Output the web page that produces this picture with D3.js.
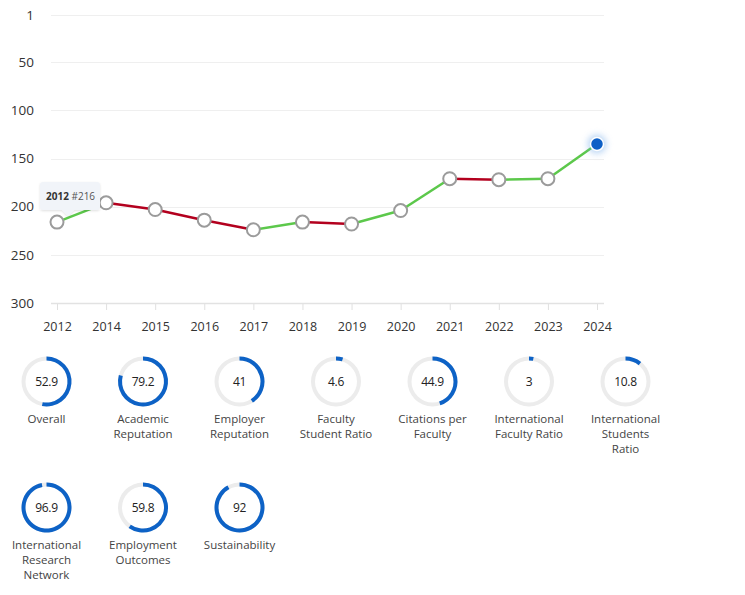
<!DOCTYPE html>
<html><head><meta charset="utf-8">
<script src="https://cdn.jsdelivr.net/npm/d3@7"></script>
<style>
html,body{margin:0;padding:0;background:#fff;}
svg{display:block;font-family:"Open Sans",sans-serif;}
</style></head>
<body>
<svg id="chart" width="745" height="595"></svg>
<script>
const years = ["2012","2014","2015","2016","2017","2018","2019","2020","2021","2022","2023","2024"];
const ranks = [216,196,203,214,224,216,218,204,171,172,171,135];
const yTicks = [1,50,100,150,200,250,300];
const metricNames = [
  ["Overall"],
  ["Academic","Reputation"],
  ["Employer","Reputation"],
  ["Faculty","Student Ratio"],
  ["Citations per","Faculty"],
  ["International","Faculty Ratio"],
  ["International","Students","Ratio"],
  ["International","Research","Network"],
  ["Employment","Outcomes"],
  ["Sustainability"]
];
const metricScores = [52.9,79.2,41,4.6,44.9,3,10.8,96.9,59.8,92];

const svg = d3.select("#chart");
const x = d3.scalePoint().domain(years).range([57,597]);
const y = d3.scaleLinear().domain([0,300]).range([14,303]);

// defs: glow
const defs = svg.append("defs");
const f = defs.append("filter").attr("id","glow").attr("x","-100%").attr("y","-100%").attr("width","300%").attr("height","300%");
f.append("feGaussianBlur").attr("in","SourceGraphic").attr("stdDeviation",3.5).attr("result","b");
const tf = defs.append("filter").attr("id","tshadow").attr("x","-20%").attr("y","-20%").attr("width","140%").attr("height","160%");
tf.append("feDropShadow").attr("dx",0).attr("dy",1).attr("stdDeviation",1.2).attr("flood-color","#000").attr("flood-opacity",0.12);

// grid
const grid = svg.append("g");
grid.selectAll("line").data(yTicks).join("line")
  .attr("x1",51).attr("x2",604)
  .attr("y1",d=>Math.round(y(d))+0.5).attr("y2",d=>Math.round(y(d))+0.5)
  .attr("stroke",d=>d===300?"#e2e2e2":"#efefef").attr("stroke-width",d=>d===300?1.5:1);

// y axis labels
const yAxis = d3.axisLeft(y).tickValues(yTicks).tickSize(0).tickPadding(0);
const yg = svg.append("g").attr("transform","translate(34,0)").call(yAxis);
yg.select(".domain").remove();
yg.selectAll("text").attr("font-size",13.5).attr("fill","#333").attr("font-family","'Open Sans',sans-serif");

// x axis
const xAxis = d3.axisBottom(x).tickSize(6).tickPadding(12);
const xg = svg.append("g").attr("transform","translate(0,304)").call(xAxis);
xg.select(".domain").remove();
xg.selectAll(".tick line").attr("stroke","#e0e0e0");
xg.selectAll("text").attr("font-size",12.5).attr("fill","#333").attr("font-family","'Open Sans',sans-serif");

// line segments
const segs = d3.range(ranks.length-1).map(i=>({i, a:ranks[i], b:ranks[i+1]}));
svg.append("g").selectAll("line").data(segs).join("line")
  .attr("x1",d=>x(years[d.i])).attr("y1",d=>y(d.a))
  .attr("x2",d=>x(years[d.i+1])).attr("y2",d=>y(d.b))
  .attr("stroke",d=>d.b<=d.a?"#5cc84b":"#b3001e")
  .attr("stroke-width",2.5);

// points
const pts = years.map((yr,i)=>({yr, r:ranks[i], last:i===years.length-1}));
svg.append("g").selectAll("circle").data(pts.filter(d=>!d.last)).join("circle")
  .attr("cx",d=>x(d.yr)).attr("cy",d=>y(d.r)).attr("r",6.5)
  .attr("fill","#fff").attr("stroke","#9b9b9b").attr("stroke-width",2);
const lastP = pts[pts.length-1];
svg.append("circle").attr("cx",x(lastP.yr)).attr("cy",y(lastP.r)).attr("r",9)
  .attr("fill","#6fa8e8").attr("opacity",0.55).attr("filter","url(#glow)");
svg.append("circle").attr("cx",x(lastP.yr)).attr("cy",y(lastP.r)).attr("r",6.5)
  .attr("fill","#0d5fc6").attr("stroke","#fff").attr("stroke-width",1.5);

// tooltip for first point
const tp = pts[0];
const tx = x(tp.yr), ty = y(tp.r);
const tg = svg.append("g").attr("filter","url(#tshadow)");
const bx = tx-17, by = ty-40, bw = 60, bh = 28;
const ax = tx+11;
tg.append("path")
  .attr("d",`M${bx+3},${by} H${bx+bw-3} Q${bx+bw},${by} ${bx+bw},${by+3} V${by+bh-3} Q${bx+bw},${by+bh} ${bx+bw-3},${by+bh} H${ax+6} L${ax},${by+bh+6} L${ax-6},${by+bh} H${bx+3} Q${bx},${by+bh} ${bx},${by+bh-3} V${by+3} Q${bx},${by} ${bx+3},${by} Z`)
  .attr("fill","#f1f4f9");
const tt = svg.append("text").attr("x",bx+6).attr("y",by+17.5).attr("font-size",10).attr("fill","#333");
tt.append("tspan").attr("font-weight","700").text(tp.yr);
tt.append("tspan").attr("fill","#555").text(" #"+tp.r);

// donuts
const cols = 7, x0 = 46.5, dx = 96.5, y0 = 381.5, dy = 126;
const arc = d3.arc().innerRadius(21).outerRadius(25).startAngle(0);
const dg = svg.append("g").selectAll("g").data(metricScores.map((v,i)=>({v,name:metricNames[i],i}))).join("g")
  .attr("transform",d=>`translate(${x0+(d.i%cols)*dx},${y0+Math.floor(d.i/cols)*dy})`);
dg.append("path").attr("d",arc({endAngle:2*Math.PI})).attr("fill","#ececec");
dg.append("path").attr("d",d=>arc({endAngle:2*Math.PI*d.v/100})).attr("fill","#0d62c6");
dg.append("text").attr("text-anchor","middle").attr("dy","0.35em").attr("font-size",12)
  .attr("fill","#222").attr("letter-spacing",-0.3).text(d=>d.v);
dg.each(function(d){
  const t = d3.select(this).append("text").attr("text-anchor","middle").attr("font-size",11.5).attr("fill","#444");
  d.name.forEach((ln,k)=>t.append("tspan").attr("x",0).attr("y",41+k*15).text(ln));
});
</script>
</body></html>
